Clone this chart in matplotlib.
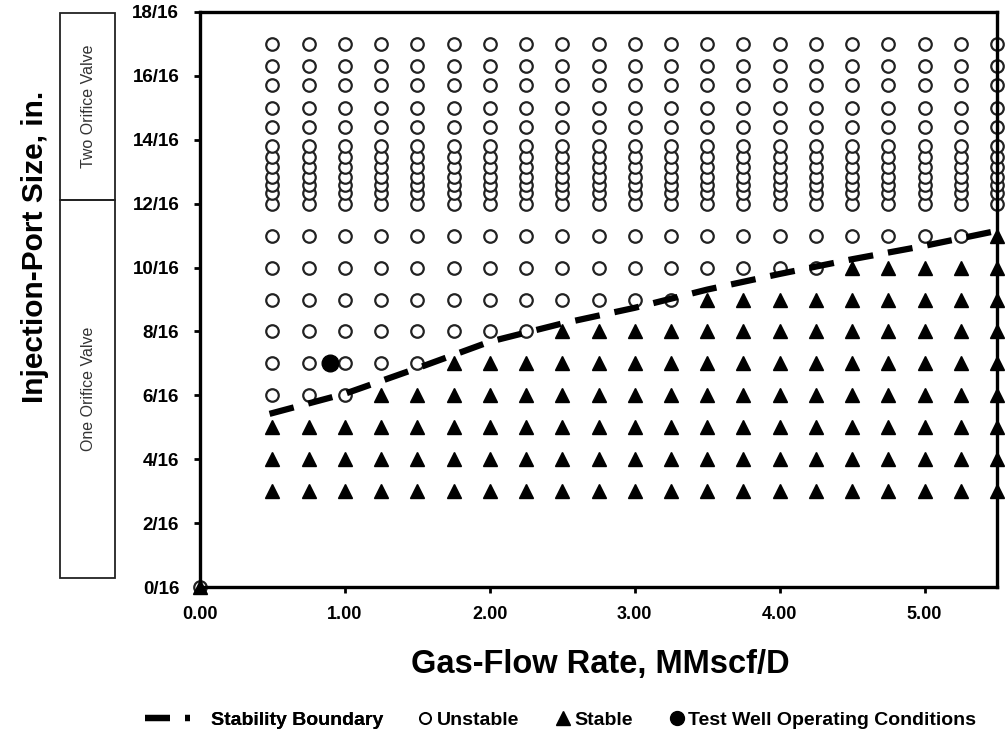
import matplotlib
matplotlib.use("Agg")
import matplotlib.pyplot as plt
from matplotlib.lines import Line2D
from matplotlib.patches import Rectangle

plt.rcParams['font.family'] = ['Liberation Sans', 'DejaVu Sans']

# ---- data (port sizes in sixteenths of an inch, gas rate in MMscf/D) ----
gas_rates = [0.5, 0.75, 1.0, 1.25, 1.5, 1.75, 2.0, 2.25, 2.5, 2.75, 3.0,
             3.25, 3.5, 3.75, 4.0, 4.25, 4.5, 4.75, 5.0, 5.25, 5.5]
one_orifice_sizes = [3, 4, 5, 6, 7, 8, 9, 10, 11]
two_orifice_sizes = [12.0, 12.33, 12.6, 12.85, 13.15, 13.45, 13.8,
                     14.4, 15.0, 15.7, 16.3, 17.0]
# lowest gas rate at which each one-orifice size was stable
stable_from_rate = {3: 0.5, 4: 0.5, 5: 0.5, 6: 1.25, 7: 1.75,
                    8: 2.5, 9: 3.5, 10: 4.5, 11: 5.5}

boundary_x = [0.48, 1.0, 1.5, 2.0, 2.5, 3.0, 3.5, 4.0, 4.5, 5.0, 5.5]
boundary_y = [5.42, 6.05, 6.85, 7.68, 8.25, 8.74, 9.31, 9.80, 10.26, 10.68, 11.15]

test_well_x = [0.9]
test_well_y = [7]

origin_x = [0.0]
origin_y = [0.0]

x_ticks = [0, 1, 2, 3, 4, 5]
y_ticks = [0, 2, 4, 6, 8, 10, 12, 14, 16, 18]

# ---- classify grid ----
unstable_x, unstable_y, stable_x, stable_y = [], [], [], []
for s in one_orifice_sizes:
    for q in gas_rates:
        if q >= stable_from_rate[s]:
            stable_x.append(q); stable_y.append(s)
        else:
            unstable_x.append(q); unstable_y.append(s)
for s in two_orifice_sizes:
    for q in gas_rates:
        unstable_x.append(q); unstable_y.append(s)

W, H = 1005, 736
fig = plt.figure(figsize=(W / 100, H / 100), dpi=100)
ax = fig.add_axes([200 / W, 1 - 587 / H, 797 / W, 575 / H])

ax.plot(unstable_x + origin_x, unstable_y + origin_y, linestyle='none',
        marker='o', ms=9, mfc='white', mec='#222222', mew=1.6, clip_on=False, zorder=3)
ax.plot(stable_x + origin_x, stable_y + origin_y, linestyle='none',
        marker='^', ms=10, mfc='black', mec='black', clip_on=False, zorder=3)
ax.plot(test_well_x, test_well_y, linestyle='none', marker='o', ms=12,
        mfc='black', mec='black', zorder=4)
ax.plot(boundary_x, boundary_y, color='black', lw=4.5, dashes=(4, 2.4),
        solid_capstyle='butt', dash_capstyle='butt', zorder=5, clip_on=False)

ax.set_xlim(0, 5.5)
ax.set_ylim(0, 18)
ax.set_xticks(x_ticks)
ax.set_xticklabels([f"{v:.2f}" for v in x_ticks], fontsize=13, fontweight='bold')
ax.set_yticks(y_ticks)
ax.set_yticklabels([f"{v}/16" for v in y_ticks], fontsize=13.5, fontweight='bold')
ax.tick_params(direction='out', length=4, width=2, colors='black')
ax.tick_params(axis='y', pad=11)
ax.tick_params(axis='x', pad=10)
for sp in ax.spines.values():
    sp.set_linewidth(2.4)
    sp.set_zorder(6)

fig.text(600 / W, 1 - 665 / H, 'Gas-Flow Rate, MMscf/D', ha='center', va='center',
         fontsize=23.5, fontweight='bold')
fig.text(35 / W, 1 - 247 / H, 'Injection-Port Size, in.', ha='center', va='center',
         rotation=90, fontsize=21.5, fontweight='bold')

# valve boxes
for (top, bot, label) in [(13, 200, 'Two Orifice Valve'), (200, 578, 'One Orifice Valve')]:
    fig.add_artist(Rectangle((60 / W, 1 - bot / H), 55 / W, (bot - top) / H,
                             transform=fig.transFigure, fill=False,
                             edgecolor='#222222', lw=1.3))
    fig.text(88 / W, 1 - (top + bot) / 2 / H, label, rotation=90, ha='center',
             va='center', fontsize=11.5, color='#333333')

# legends
h_line = Line2D([], [], color='black', lw=4.5, dashes=(4, 2.4), dash_capstyle='butt')
leg1 = fig.legend([h_line], ['Stability Boundary'], loc='center left',
                  bbox_to_anchor=(145 / W, 1 - 720 / H), frameon=False,
                  borderpad=0, borderaxespad=0, handlelength=2.3, handletextpad=1.1,
                  prop={'weight': 'bold', 'size': 14})
h_u = Line2D([], [], linestyle='none', marker='o', ms=8, mfc='white', mec='black', mew=1.4)
h_s = Line2D([], [], linestyle='none', marker='^', ms=10, mfc='black', mec='black')
h_t = Line2D([], [], linestyle='none', marker='o', ms=10, mfc='black', mec='black')
leg2 = fig.legend([h_u, h_s, h_t], ['Unstable', 'Stable', 'Test Well Operating Conditions'],
                  loc='center left', bbox_to_anchor=(418 / W, 1 - 720 / H), ncol=3,
                  frameon=False, borderpad=0, borderaxespad=0, handlelength=0.7,
                  handletextpad=0.25, columnspacing=1.9,
                  prop={'weight': 'bold', 'size': 14})
fig.add_artist(leg1)

fig.savefig('out.png', dpi=100)
